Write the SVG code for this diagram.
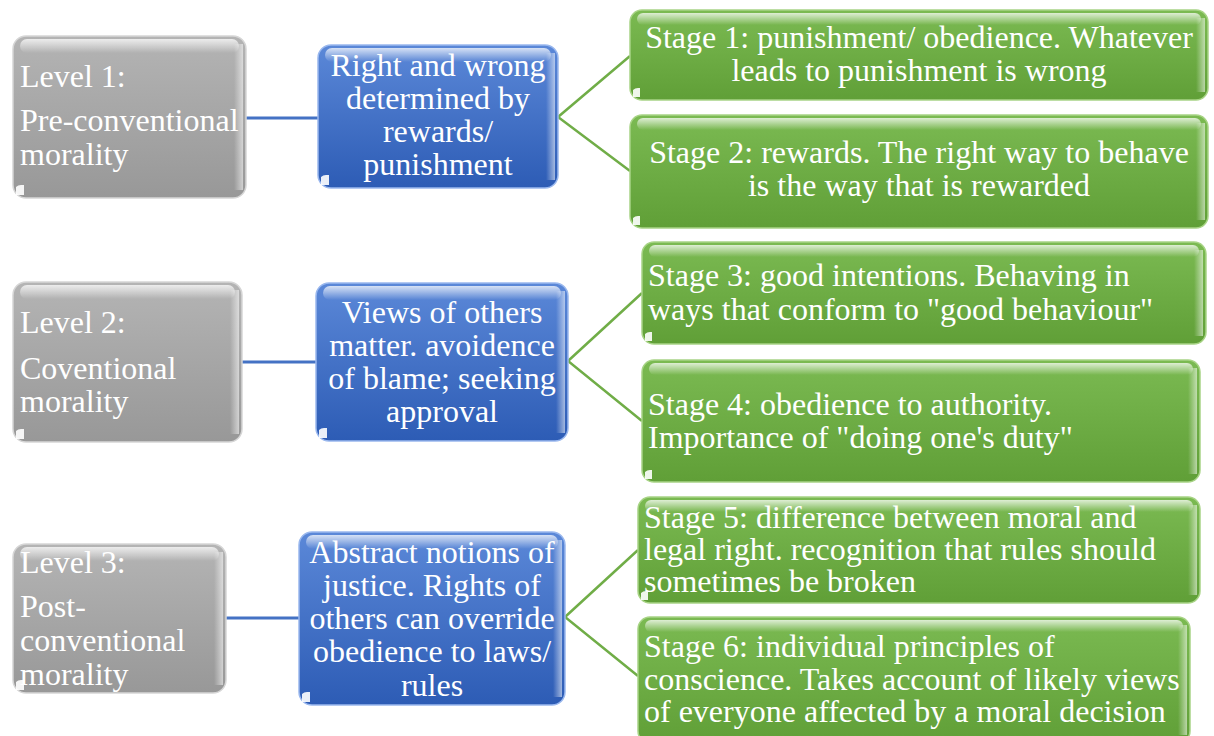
<svg xmlns="http://www.w3.org/2000/svg" width="1214" height="736" viewBox="0 0 1214 736">
<defs>
<linearGradient id="gGray" x1="0" y1="0" x2="0" y2="1"><stop offset="0" stop-color="#b4b4b4"/><stop offset="1" stop-color="#989898"/></linearGradient>
<linearGradient id="gBlue" x1="0" y1="0" x2="0" y2="1"><stop offset="0" stop-color="#5b88d8"/><stop offset="1" stop-color="#2d5cb5"/></linearGradient>
<linearGradient id="gGreen" x1="0" y1="0" x2="0" y2="1"><stop offset="0" stop-color="#7bba52"/><stop offset="1" stop-color="#609f37"/></linearGradient>
<linearGradient id="gHi" x1="0" y1="0" x2="0" y2="1"><stop offset="0" stop-color="#ffffff" stop-opacity="0.75"/><stop offset="1" stop-color="#ffffff" stop-opacity="0"/></linearGradient>
<linearGradient id="gRight" x1="0" y1="0" x2="1" y2="0"><stop offset="0" stop-color="#ffffff" stop-opacity="0"/><stop offset="1" stop-color="#ffffff" stop-opacity="0.55"/></linearGradient>
</defs>
<style>
.gray{fill:url(#gGray);stroke:#d6d6d6;stroke-width:1.5}
.blue{fill:url(#gBlue);stroke:#9ab8ee;stroke-width:1.5}
.green{fill:url(#gGreen);stroke:#a8d486;stroke-width:1.5}
.hi{fill:url(#gHi)}
.rt{fill:url(#gRight)}
.nub{fill:#ffffff;opacity:0.9}
.c{text-anchor:middle}
.cb{stroke:#4472c4;stroke-width:3;fill:none}
.cg{stroke:#70ad47;stroke-width:2.5;fill:none}
</style>

<g id="connectors">
<line class="cb" x1="246" y1="118" x2="318" y2="118"/>
<line class="cb" x1="242" y1="362" x2="316" y2="362"/>
<line class="cb" x1="226" y1="618" x2="299" y2="618"/>
<polyline class="cg" points="630,56 558,117 630,171"/>
<polyline class="cg" points="642,293 568,361 642,421"/>
<polyline class="cg" points="638,550 565,617 638,676"/>
</g>

<g font-family="Liberation Serif" font-size="32" fill="#ffffff">
<g id="level1">
<rect class="gray" x="13" y="36" width="233" height="162" rx="13"/>
<rect class="hi" x="20" y="39" width="219" height="14" rx="7"/>
<rect class="rt" x="234" y="44" width="9" height="146"/>
<path class="nub" d="M16 195 L16 187 Q18 185 21 185 L24 185 L24 195 Z"/>
<text x="20" y="87">Level 1:</text>
<text x="20" y="131">Pre-conventional</text>
<text x="20" y="165">morality</text>
</g>

<g id="rule1">
<rect class="blue" x="318" y="45" width="240" height="143" rx="13"/>
<rect class="hi" x="325" y="48" width="226" height="14" rx="7"/>
<rect class="rt" x="546" y="53" width="9" height="127"/>
<path class="nub" d="M321 185 L321 177 Q323 175 326 175 L329 175 L329 185 Z"/>
<text class="c" x="438" y="76">Right and wrong</text>
<text class="c" x="438" y="109">determined by</text>
<text class="c" x="438" y="142">rewards/</text>
<text class="c" x="438" y="175">punishment</text>
</g>

<g id="stage1">
<rect class="green" x="630" y="10" width="578" height="90" rx="12"/>
<rect class="hi" x="637" y="13" width="564" height="12" rx="6"/>
<rect class="rt" x="1196" y="18" width="9" height="74"/>
<path class="nub" d="M633 97 L633 90 Q635 88 638 88 L640 88 L640 97 Z"/>
<text class="c" x="919" y="48">Stage 1: punishment/ obedience. Whatever</text>
<text class="c" x="919" y="81">leads to punishment is wrong</text>
</g>

<g id="stage2">
<rect class="green" x="630" y="115" width="578" height="113" rx="12"/>
<rect class="hi" x="637" y="118" width="564" height="12" rx="6"/>
<rect class="rt" x="1196" y="123" width="9" height="97"/>
<path class="nub" d="M633 225 L633 218 Q635 216 638 216 L640 216 L640 225 Z"/>
<text class="c" x="919" y="163">Stage 2: rewards. The right way to behave</text>
<text class="c" x="919" y="196">is the way that is rewarded</text>
</g>

<g id="level2">
<rect class="gray" x="13" y="282" width="229" height="160" rx="13"/>
<rect class="hi" x="20" y="285" width="215" height="14" rx="7"/>
<rect class="rt" x="230" y="290" width="9" height="144"/>
<path class="nub" d="M16 439 L16 431 Q18 429 21 429 L24 429 L24 439 Z"/>
<text x="20" y="333">Level 2:</text>
<text x="20" y="379">Coventional</text>
<text x="20" y="412">morality</text>
</g>

<g id="rule2">
<rect class="blue" x="316" y="283" width="252" height="158" rx="13"/>
<rect class="hi" x="323" y="286" width="238" height="14" rx="7"/>
<rect class="rt" x="556" y="291" width="9" height="142"/>
<path class="nub" d="M319 438 L319 430 Q321 428 324 428 L327 428 L327 438 Z"/>
<text class="c" x="442" y="323">Views of others</text>
<text class="c" x="442" y="356">matter. avoidence</text>
<text class="c" x="442" y="389">of blame; seeking</text>
<text class="c" x="442" y="422">approval</text>
</g>

<g id="stage3">
<rect class="green" x="642" y="242" width="564" height="102" rx="12"/>
<rect class="hi" x="649" y="245" width="550" height="12" rx="6"/>
<rect class="rt" x="1194" y="250" width="9" height="86"/>
<path class="nub" d="M645 341 L645 334 Q647 332 650 332 L652 332 L652 341 Z"/>
<text x="648" y="286">Stage 3: good intentions. Behaving in</text>
<text x="648" y="320">ways that conform to "good behaviour"</text>
</g>

<g id="stage4">
<rect class="green" x="642" y="360" width="558" height="122" rx="12"/>
<rect class="hi" x="649" y="363" width="544" height="12" rx="6"/>
<rect class="rt" x="1188" y="368" width="9" height="106"/>
<path class="nub" d="M645 479 L645 472 Q647 470 650 470 L652 470 L652 479 Z"/>
<text x="648" y="415">Stage 4: obedience to authority.</text>
<text x="648" y="448">Importance of "doing one's duty"</text>
</g>

<g id="level3">
<rect class="gray" x="13" y="544" width="213" height="149" rx="13"/>
<rect class="hi" x="20" y="547" width="199" height="14" rx="7"/>
<rect class="rt" x="214" y="552" width="9" height="133"/>
<path class="nub" d="M16 690 L16 682 Q18 680 21 680 L24 680 L24 690 Z"/>
<text x="20" y="573">Level 3:</text>
<text x="20" y="617">Post-</text>
<text x="20" y="651">conventional</text>
<text x="20" y="685">morality</text>
</g>

<g id="rule3">
<rect class="blue" x="299" y="532" width="266" height="173" rx="13"/>
<rect class="hi" x="306" y="535" width="252" height="14" rx="7"/>
<rect class="rt" x="553" y="540" width="9" height="157"/>
<path class="nub" d="M302 702 L302 694 Q304 692 307 692 L310 692 L310 702 Z"/>
<text class="c" x="432" y="563">Abstract notions of</text>
<text class="c" x="432" y="596">justice. Rights of</text>
<text class="c" x="432" y="629">others can override</text>
<text class="c" x="432" y="662">obedience to laws/</text>
<text class="c" x="432" y="696">rules</text>
</g>

<g id="stage5">
<rect class="green" x="638" y="497" width="562" height="106" rx="12"/>
<rect class="hi" x="645" y="500" width="548" height="12" rx="6"/>
<rect class="rt" x="1188" y="505" width="9" height="90"/>
<path class="nub" d="M641 600 L641 593 Q643 591 646 591 L648 591 L648 600 Z"/>
<text x="644" y="528">Stage 5: difference between moral and</text>
<text x="644" y="560">legal right. recognition that rules should</text>
<text x="644" y="592">sometimes be broken</text>
</g>

<g id="stage6">
<rect class="green" x="638" y="617" width="552" height="126" rx="12"/>
<rect class="hi" x="645" y="620" width="538" height="12" rx="6"/>
<rect class="rt" x="1178" y="625" width="9" height="110"/>
<text x="644" y="657">Stage 6: individual principles of</text>
<text x="644" y="690">conscience. Takes account of likely views</text>
<text x="644" y="722">of everyone affected by a moral decision</text>
</g>
</g>
</svg>
